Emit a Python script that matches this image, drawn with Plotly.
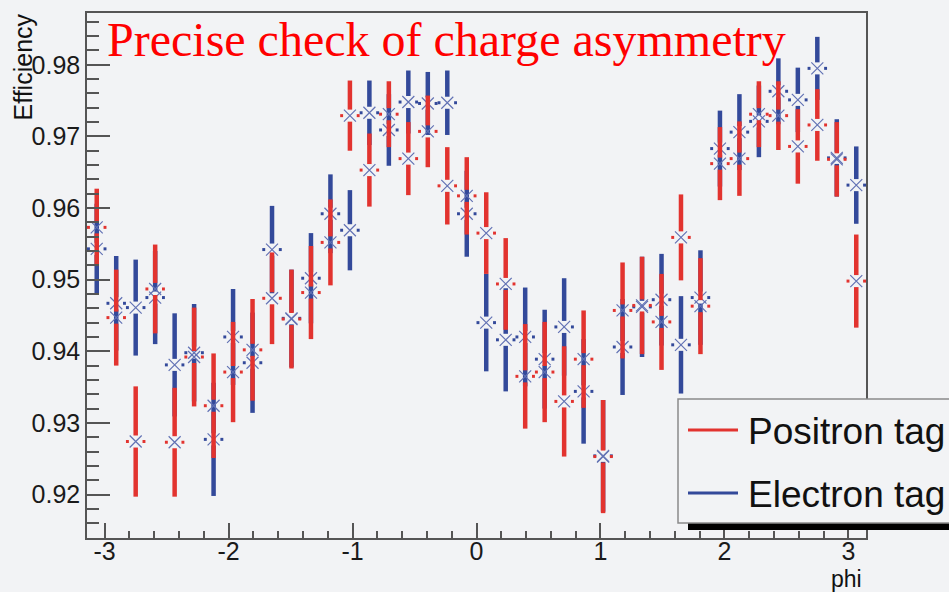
import numpy as np
import plotly.graph_objects as go

# ---------------- data ----------------
phi = [-3.0631, -2.9060, -2.7489, -2.5918, -2.4347, -2.2777, -2.1206, -1.9635,
       -1.8064, -1.6493, -1.4923, -1.3352, -1.1781, -1.0210, -0.8639, -0.7069,
       -0.5498, -0.3927, -0.2356, -0.0785, 0.0785, 0.2356, 0.3927, 0.5498,
       0.7069, 0.8639, 1.0210, 1.1781, 1.3352, 1.4923, 1.6493, 1.8064,
       1.9635, 2.1206, 2.2777, 2.4347, 2.5918, 2.7489, 2.9060, 3.0631]
bin_half_width = 0.0785

positron_eff = [0.9573, 0.9447, 0.9274, 0.9487, 0.9273, 0.9392, 0.9324, 0.9371,
                0.9402, 0.9474, 0.9445, 0.9482, 0.9552, 0.9729, 0.9653, 0.9731,
                0.9669, 0.9707, 0.9631, 0.9617, 0.9565, 0.9494, 0.9365, 0.9371,
                0.9330, 0.9389, 0.9253, 0.9457, 0.9464, 0.9441, 0.9559, 0.9463,
                0.9662, 0.9669, 0.9731, 0.9729, 0.9686, 0.9716, 0.9668, 0.9498]
positron_err = [0.0054, 0.0067, 0.0077, 0.0062, 0.0076, 0.0069, 0.0073, 0.0070,
                0.0071, 0.0064, 0.0069, 0.0065, 0.0060, 0.0049, 0.0051, 0.0046,
                0.0051, 0.0050, 0.0054, 0.0054, 0.0057, 0.0064, 0.0073, 0.0070,
                0.0077, 0.0068, 0.0079, 0.0067, 0.0068, 0.0067, 0.0060, 0.0067,
                0.0051, 0.0052, 0.0046, 0.0048, 0.0052, 0.0050, 0.0052, 0.0065]

electron_eff = [0.9543, 0.9467, 0.9461, 0.9475, 0.9381, 0.9398, 0.9277, 0.9420,
                0.9384, 0.9542, 0.9446, 0.9502, 0.9592, 0.9569, 0.9733, 0.9709,
                0.9748, 0.9746, 0.9747, 0.9592, 0.9440, 0.9416, 0.9420, 0.9389,
                0.9434, 0.9344, 0.9254, 0.9406, 0.9462, 0.9472, 0.9409, 0.9475,
                0.9683, 0.9706, 0.9721, 0.9763, 0.9751, 0.9795, 0.9670, 0.9632]
electron_err = [0.0063, 0.0066, 0.0067, 0.0065, 0.0072, 0.0068, 0.0079, 0.0067,
                0.0070, 0.0061, 0.0068, 0.0063, 0.0055, 0.0056, 0.0045, 0.0050,
                0.0044, 0.0044, 0.0045, 0.0060, 0.0068, 0.0072, 0.0069, 0.0069,
                0.0068, 0.0073, 0.0078, 0.0067, 0.0070, 0.0064, 0.0068, 0.0066,
                0.0053, 0.0053, 0.0050, 0.0046, 0.0045, 0.0044, 0.0054, 0.0054]

x_ticks = [-3, -2, -1, 0, 1, 2, 3]
x_ticktext = ["-3", "-2", "-1", "0", "1", "2", "3"]
y_ticks = [0.92, 0.93, 0.94, 0.95, 0.96, 0.97, 0.98]

# ---------------- style ----------------
RED = "#E2332F"
BLUE = "#33499A"
MARK = "#6272B4"
BG = "#F2F3F5"
AX = "#555555"
FONT = "Liberation Sans"

GAP_X = 0.055     # gap around marker (x units)
GAP_Y = 0.00084   # gap around marker (y units)


def bars(x, y, e, color):
    x = np.asarray(x); y = np.asarray(y); e = np.asarray(e)
    n = len(x)
    z = np.zeros(n)
    hw = np.full(n, bin_half_width) - GAP_X
    ev = np.maximum(e - GAP_Y, 0)
    xs = np.concatenate([x, x, x - GAP_X, x + GAP_X])
    ys = np.concatenate([y + GAP_Y, y - GAP_Y, y, y])
    return go.Scatter(
        x=xs, y=ys, mode="markers",
        marker=dict(size=1, opacity=0),
        error_y=dict(type="data", symmetric=False,
                     array=np.concatenate([ev, z, z, z]),
                     arrayminus=np.concatenate([z, ev, z, z]),
                     color=color, thickness=4.5, width=0),
        error_x=dict(type="data", symmetric=False,
                     array=np.concatenate([z, z, z, hw]),
                     arrayminus=np.concatenate([z, z, hw, z]),
                     color=color, thickness=3, width=0),
        showlegend=False, hoverinfo="skip")


def marks(x, y):
    return go.Scatter(
        x=x, y=y, mode="markers",
        marker=dict(symbol="x-thin", size=12, color=MARK,
                    line=dict(color=MARK, width=1.2)),
        showlegend=False)


fig = go.Figure()
fig.add_trace(bars(phi, electron_eff, electron_err, BLUE))
fig.add_trace(marks(phi, electron_eff))
fig.add_trace(bars(phi, positron_eff, positron_err, RED))
fig.add_trace(marks(phi, positron_eff))

W, H = 949, 592
L, R, T, B = 87, 83, 13, 54
PW, PH = W - L - R, H - T - B


def px(xp):
    return (xp - L) / PW


def py(yp):
    return (H - B - yp) / PH


axis_common = dict(
    showgrid=False, zeroline=False, showline=True, linecolor=AX, linewidth=1.5,
    mirror=True, ticks="inside", tickcolor=AX, tickwidth=1.5,
    tickfont=dict(family=FONT, size=25, color="#1a1a1a"),
)

fig.update_xaxes(range=[-np.pi, np.pi], tickvals=x_ticks, ticktext=x_ticktext,
                 ticklen=15, ticklabelstandoff=-10,
                 minor=dict(ticks="inside", ticklen=7.5, tickwidth=1.5,
                            tickcolor=AX, dtick=0.2, tick0=0),
                 **axis_common)
fig.update_yaxes(range=[0.91393, 0.98723], tickvals=y_ticks, tickformat=".2f",
                 ticklen=23,
                 minor=dict(ticks="inside", ticklen=12, tickwidth=1.5,
                            tickcolor=AX, dtick=0.002, tick0=0.92),
                 **axis_common)

# legend box (drawn manually, ROOT style with shadow)
shapes = [
    dict(type="rect", xref="paper", yref="paper", layer="above",
         x0=px(688), x1=px(990), y0=py(530), y1=py(520),
         fillcolor="black", line=dict(width=0)),
    dict(type="rect", xref="paper", yref="paper", layer="above",
         x0=px(678), x1=px(990), y0=py(523), y1=py(399),
         fillcolor=BG, line=dict(color="#8a8a8a", width=1.5)),
    dict(type="line", xref="paper", yref="paper", layer="above",
         x0=px(688), x1=px(738), y0=py(430), y1=py(430),
         line=dict(color=RED, width=3)),
    dict(type="line", xref="paper", yref="paper", layer="above",
         x0=px(688), x1=px(738), y0=py(493), y1=py(493),
         line=dict(color=BLUE, width=3)),
]

annotations = [
    dict(text="Precise check of charge asymmetry", xref="paper", yref="paper",
         x=px(105), y=py(40), xanchor="left", yanchor="middle", showarrow=False,
         font=dict(family="Liberation Serif", size=48, color="#FF0000")),
    dict(text="Positron tag", xref="paper", yref="paper",
         x=px(746), y=py(431), xanchor="left", yanchor="middle", showarrow=False,
         font=dict(family=FONT, size=37, color="#111111")),
    dict(text="Electron tag", xref="paper", yref="paper",
         x=px(746), y=py(494), xanchor="left", yanchor="middle", showarrow=False,
         font=dict(family=FONT, size=37, color="#111111")),
    dict(text="Efficiency", xref="paper", yref="paper", textangle=-90,
         x=px(22), y=py(12), xanchor="center", yanchor="top", showarrow=False,
         font=dict(family=FONT, size=25, color="#111111")),
    dict(text="phi", xref="paper", yref="paper",
         x=px(864), y=py(579), xanchor="right", yanchor="middle", showarrow=False,
         font=dict(family=FONT, size=23, color="#111111")),
]

fig.update_layout(
    width=W, height=H,
    margin=dict(l=L, r=R, t=T, b=B, pad=0),
    paper_bgcolor=BG, plot_bgcolor=BG,
    shapes=shapes, annotations=annotations,
    showlegend=False,
)

fig.write_html("out.html")
